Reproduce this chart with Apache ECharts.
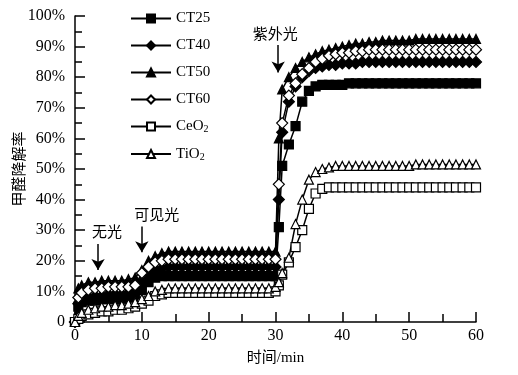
<!DOCTYPE html>
<html lang="zh-CN">
<head>
    <meta charset="UTF-8">
    <title>甲醛降解率</title>
    <script src="https://cdn.jsdelivr.net/npm/echarts@6/dist/echarts.min.js"></script>
    <style>
        html, body { margin: 0; padding: 0; background: #fff; }
        #main { width: 518px; height: 375px; }
    </style>
</head>
<body>
    <div id="main"></div>
    <script>
        // 时间 (min)
        var times = [0, 0.5, 1, 2, 3, 4, 5, 6, 7, 8, 9, 10, 11, 12, 13,
            14, 15, 16, 17, 18, 19, 20, 21, 22, 23, 24, 25, 26, 27, 28, 29, 30,
            30.5,
            31, 32, 33, 34, 35, 36, 37, 38, 39, 40,
            41, 42, 43, 44, 45, 46, 47, 48, 49, 50, 51, 52, 53, 54, 55, 56, 57, 58, 59, 60];

        // 降解率 (%)
        var ct25 = [0, 5, 6.5, 7, 7, 7.5, 7.5, 7.5, 7.5, 8, 8.5, 10.5, 13, 14.5, 15,
            15, 15, 15, 15, 15, 15, 15, 15, 15, 15, 15, 15, 15, 15, 15, 15, 15,
            31,
            51, 58, 64, 72, 75.5, 77, 77.5, 77.5, 77.5, 77.5,
            78, 78, 78, 78, 78, 78, 78, 78, 78, 78, 78, 78, 78, 78, 78, 78, 78, 78, 78, 78];
        var ct40 = [0, 6, 7.5, 8, 8.5, 8.5, 9, 9, 9, 9.5, 10, 13, 15.5, 17, 17.5,
            18, 18, 18, 18, 18, 18, 18, 18, 18, 18, 18, 18, 18, 18, 18, 18, 18,
            40,
            62, 72, 77, 80, 82, 83, 83.5, 84, 84, 84.5,
            84.5, 84.5, 85, 85, 85, 85, 85, 85, 85, 85, 85, 85, 85, 85, 85, 85, 85, 85, 85, 85];
        var ct50 = [0, 11, 12, 13, 13, 13.5, 13.5, 13.5, 13.5, 14, 14.5, 17, 20, 21.5, 22.5,
            23, 23, 23, 23, 23, 23, 23, 23, 23, 23, 23, 23, 23, 23, 23, 23, 23,
            60,
            76, 80, 83, 85, 86.5, 87.5, 88.5, 89, 89.5, 90,
            90.5, 91, 91, 91.5, 91.5, 92, 92, 92, 92, 92, 92.5, 92.5, 92.5, 92.5, 92.5, 92.5, 92.5, 92.5, 92.5, 92.5];
        var ct60 = [0, 8, 9.5, 10.5, 11, 11, 11.5, 11.5, 11.5, 11.5, 12, 16, 18, 19.5, 20,
            20.5, 20.5, 20.5, 20.5, 20.5, 20.5, 20.5, 20.5, 20.5, 20.5, 20.5, 20.5, 20.5, 20.5, 20.5, 20.5, 20.5,
            45,
            65, 74, 78, 81, 83, 85, 86, 87, 87.5, 88,
            88, 88.5, 88.5, 89, 89, 89, 89, 89, 89, 89, 89, 89, 89, 89, 89, 89, 89, 89, 89, 89];
        var ceo2 = [0, 1, 2, 2.5, 3, 3.5, 3.5, 4, 4, 4.5, 5, 6, 7, 8.5, 9,
            9.5, 9.5, 9.5, 9.5, 9.5, 9.5, 9.5, 9.5, 9.5, 9.5, 9.5, 9.5, 9.5, 9.5, 9.5, 9.5, 10,
            12,
            15.5, 19.5, 24.5, 30, 37, 42, 43.5, 44, 44, 44,
            44, 44, 44, 44, 44, 44, 44, 44, 44, 44, 44, 44, 44, 44, 44, 44, 44, 44, 44, 44];
        var tio2 = [0, 2, 3, 4, 4.5, 5, 5, 5.5, 5.5, 6, 6.5, 7.5, 8.5, 10, 10.5,
            11, 11, 11, 11, 11, 11, 11, 11, 11, 11, 11, 11, 11, 11, 11, 11, 11.5,
            13,
            16, 21, 32, 40, 46.5, 49, 50, 50.5, 51, 51,
            51, 51, 51, 51, 51, 51, 51, 51, 51, 51, 51.5, 51.5, 51.5, 51.5, 51.5, 51.5, 51.5, 51.5, 51.5, 51.5];

        // 箭头标注: [文字, 时间, 起点%, 终点%, 文字横向偏移px]
        var arrows = [
            ['无光', 3.45, 25.5, 17, 9],
            ['可见光', 10, 31.2, 22.8, 15],
            ['紫外光', 30.4, 90.5, 81.5, -3]
        ];

        var FONT = '"Liberation Serif", "Times New Roman", "Noto Sans CJK SC", serif';

        function pairs(vals) {
            return vals.map(function (v, i) { return [times[i], v]; });
        }

        function makeSeries(name, vals, symbol, filled) {
            return {
                name: name,
                type: 'line',
                data: pairs(vals),
                symbol: symbol,
                symbolSize: symbol === 'diamond' ? 11 : 9,
                showSymbol: true,
                lineStyle: { color: '#000', width: 1.5 },
                itemStyle: {
                    color: filled ? '#000' : '#fff',
                    borderColor: '#000',
                    borderWidth: 1.2
                },
                animation: false
            };
        }

        var series = [
            makeSeries('CT25', ct25, 'rect', true),
            makeSeries('CT40', ct40, 'diamond', true),
            makeSeries('CT50', ct50, 'triangle', true),
            makeSeries('CT60', ct60, 'diamond', false),
            makeSeries('CeO2', ceo2, 'rect', false),
            makeSeries('TiO2', tio2, 'triangle', false)
        ];

        series[0].markLine = {
            silent: true,
            animation: false,
            symbol: ['none', 'arrow'],
            symbolSize: [10, 11],
            lineStyle: { color: '#000', width: 1.5, type: 'solid' },
            label: {
                show: true,
                position: 'start',
                distance: 3,
                color: '#000',
                fontSize: 15,
                fontFamily: FONT,
                formatter: function (p) { return p.name; }
            },
            data: arrows.map(function (a) {
                return [
                    { name: a[0], coord: [a[1], a[2]], label: { offset: [a[4], 0] } },
                    { coord: [a[1], a[3]] }
                ];
            })
        };

        var myChart = echarts.init(document.getElementById('main'));
        var option = {
            backgroundColor: '#fff',
            animation: false,
            textStyle: { fontFamily: FONT, color: '#000' },
            grid: { left: 75, right: 42, top: 16, bottom: 53, containLabel: false, outerBoundsMode: 'none' },
            legend: {
                orient: 'vertical',
                left: 125,
                top: 6,
                itemWidth: 40,
                itemHeight: 10,
                itemGap: 12,
                data: ['CT25', 'CT40', 'CT50', 'CT60', 'CeO2', 'TiO2'],
                formatter: function (n) {
                    if (n === 'CeO2') return 'CeO{sub|2}';
                    if (n === 'TiO2') return 'TiO{sub|2}';
                    return n;
                },
                textStyle: {
                    fontFamily: FONT,
                    fontSize: 15,
                    color: '#000',
                    rich: {
                        sub: { fontSize: 10, fontFamily: FONT, verticalAlign: 'bottom', padding: [6, 0, 0, 0] }
                    }
                }
            },
            xAxis: {
                type: 'value',
                min: 0,
                max: 60,
                interval: 10,
                name: '时间/min',
                nameLocation: 'middle',
                nameGap: 29,
                nameMoveOverlap: false,
                nameTextStyle: { fontSize: 15, fontFamily: FONT, color: '#000' },
                axisLine: { lineStyle: { color: '#000', width: 1.5 } },
                axisTick: { inside: true, length: 10, lineStyle: { color: '#000', width: 1.5 } },
                minorTick: { show: true, splitNumber: 2, length: 8, lineStyle: { color: '#000', width: 1.5 } },
                axisLabel: { fontSize: 16, color: '#000', margin: 6, fontFamily: FONT },
                splitLine: { show: false }
            },
            yAxis: {
                type: 'value',
                min: 0,
                max: 100,
                interval: 10,
                name: '甲醛降解率',
                nameLocation: 'middle',
                nameGap: 47,
                nameMoveOverlap: false,
                nameTextStyle: { fontSize: 15, fontFamily: FONT, color: '#000' },
                axisLine: { show: true, lineStyle: { color: '#000', width: 1.5 } },
                axisTick: { show: true, inside: true, length: 10, lineStyle: { color: '#000', width: 1.5 } },
                minorTick: { show: true, splitNumber: 2, length: 7, lineStyle: { color: '#000', width: 1.5 } },
                axisLabel: {
                    fontSize: 16,
                    color: '#000',
                    margin: 10,
                    fontFamily: FONT,
                    formatter: function (v) { return v === 0 ? '0' : v + '%'; }
                },
                splitLine: { show: false }
            },
            series: series
        };
        myChart.setOption(option);
    </script>
</body>
</html>
